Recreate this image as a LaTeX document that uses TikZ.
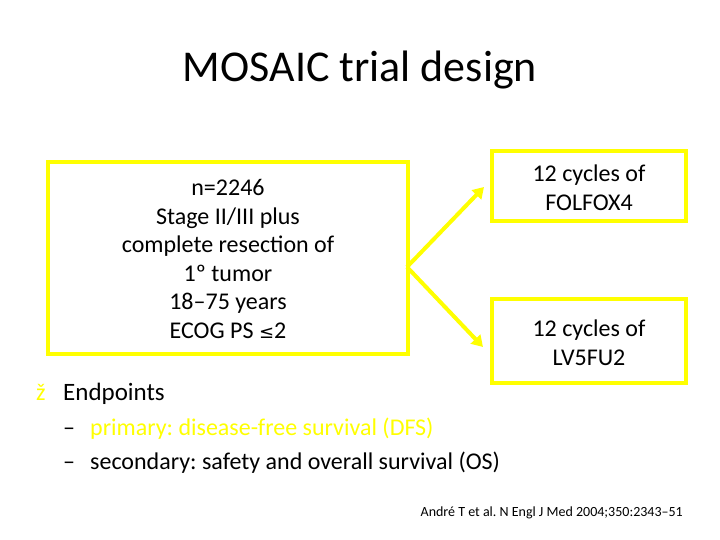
\documentclass[tikz,border=0pt]{standalone}
\usepackage{fontspec}
\setmainfont{Carlito}
\newfontfamily\symfont{DejaVu Sans}
\usetikzlibrary{arrows.meta}
\definecolor{ylw}{RGB}{255,255,0}
\frenchspacing
\begin{document}
\begin{tikzpicture}[x=1pt,y=-1pt,
  box/.style={draw=ylw,line width=4pt,inner sep=0pt},
  txt/.style={align=center,font=\fontsize{24}{28.5}\selectfont,inner sep=0pt},
  arr/.style={draw=ylw,line width=4pt,-{Triangle[length=11pt,width=13pt]}}]
\useasboundingbox (0,0) rectangle (720,540);
\fill[white] (0,0) rectangle (720,540);
\node[font=\fontsize{44}{50}\selectfont,inner sep=0pt] (title) at (360,70) {MOSAIC trial design};
\draw[box] (48,162) rectangle (408,354);
\node[txt] (left) at (228,259) {n=2246\\Stage II/III plus\\complete resection of\\1º tumor\\18–75 years\\ECOG PS {\symfont\fontsize{18}{20}\selectfont ≤}2};
\coordinate (apex) at (407,267);
\draw[box] (492,151) rectangle (686,221);
\node[txt] (top) at (589,188) {12 cycles of\\FOLFOX4};
\draw[box] (492,299) rectangle (686,383);
\node[txt] (bot) at (589,343) {12 cycles of\\LV5FU2};
\coordinate (t1) at (484,187);
\coordinate (t2) at (483,347);
\draw[arr] (apex) -- (t1);
\draw[arr] (apex) -- (t2);
\node[anchor=base west,font=\fontsize{24}{26}\selectfont,text=ylw,inner sep=0pt] (b) at (36,400) {ž};
\node[anchor=base west,font=\fontsize{25}{28}\selectfont,inner sep=0pt] (e) at (63,400) {Endpoints};
\node[anchor=base west,font=\fontsize{24}{26}\selectfont,inner sep=0pt] (d1) at (63,435) {–};
\node[anchor=base west,font=\fontsize{24}{26}\selectfont,text=ylw,inner sep=0pt] (p) at (90,435) {primary: disease-free survival (DFS)};
\node[anchor=base west,font=\fontsize{24}{26}\selectfont,inner sep=0pt] (d2) at (63,469) {–};
\node[anchor=base west,font=\fontsize{24}{26}\selectfont,inner sep=0pt] (s) at (90,469) {secondary: safety and overall survival (OS)};
\node[anchor=base east,font=\fontsize{14}{16}\selectfont,inner sep=0pt] (c) at (683,516) {André T et al. N Engl J Med 2004;350:2343–51};
\end{tikzpicture}
\end{document}
